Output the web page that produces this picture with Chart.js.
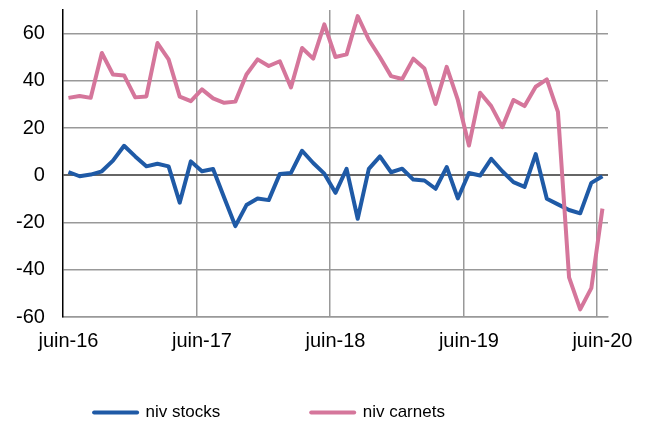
<!DOCTYPE html>
<html lang="fr">
<head>
<meta charset="utf-8">
<title>niv stocks / niv carnets</title>
<script src="https://cdn.jsdelivr.net/npm/chart.js@4.4.1/dist/chart.umd.min.js"></script>
<style>
  html, body { margin: 0; padding: 0; background: #fff; }
  #wrap { width: 647px; height: 425px; }
</style>
</head>
<body>
<div id="wrap"><canvas id="chart-niv"></canvas></div>
<script>
// ── Données (juin-16 → juin-20, mensuel) ──────────────────────
const mois  = ['juin', 'juil', 'août', 'sept', 'oct', 'nov', 'déc', 'janv', 'févr', 'mars', 'avr', 'mai'];
const annees = ['16', '17', '18', '19', '20'];

const nivStocks = [
  1.4, -0.4, 0.3, 1.7, 6.2, 12.5, 8, 3.8, 4.9, 3.8, -11.6, 5.9,
  1.7, 2.7, -9.5, -21.5, -12.6, -9.8, -10.5, 0.6, 1, 10.4, 5.2, 0.7,
  -7.4, 2.7, -18.4, 2.7, 8, 1.3, 2.8, -1.8, -2.2, -5.7, 3.5, -9.8,
  1, -0.1, 7, 1.7, -2.9, -4.9, 9, -9.9, -12.3, -14.7, -16.1, -3.2,
  -0.4,
];

const nivCarnets = [
  32.8, 33.6, 32.8, 51.8, 42.7, 42.3, 33, 33.4, 56, 49.1, 33.3, 31.4,
  36.4, 32.6, 30.7, 31.2, 42.7, 49.1, 46.3, 48.3, 37.2, 53.9, 49.4, 63.9,
  50.1, 51.2, 67.4, 57.4, 50, 42, 40.8, 49.4, 45.2, 30.2, 45.9, 31.9,
  12.6, 35, 29.3, 20.4, 31.9, 29.3, 37.5, 40.6, 26.9, -43.2, -56.8, -47.8,
  -14.1,
];

// une étiquette par mois, seule "juin" est affichée
const labels = [];
annees.forEach((a, k) => {
  mois.forEach((m) => {
    if (k === annees.length - 1 && m !== 'juin') return;
    labels.push(`${m}-${a}`);
  });
});

const BLEU = '#1F5AA6';
const ROSE = '#D5769B';
const FONT = "'Liberation Sans', Arial, sans-serif";

new Chart(document.getElementById('chart-niv'), {
  type: 'line',
  data: {
    labels,
    datasets: [
      {
        label:           'niv stocks',
        data:            nivStocks,
        borderColor:     BLEU,
        backgroundColor: BLEU,
        borderWidth:     4,
        pointRadius:     0,
        tension:         0,
        borderJoinStyle: 'round',
        order:           1,
      },
      {
        label:           'niv carnets',
        data:            nivCarnets,
        borderColor:     ROSE,
        backgroundColor: ROSE,
        borderWidth:     4,
        pointRadius:     0,
        tension:         0,
        borderJoinStyle: 'round',
        order:           0,   // dessiné au-dessus
      },
    ],
  },
  options: {
    responsive:          true,
    maintainAspectRatio: false,
    animation:           false,
    layout: { padding: { left: 16, right: 39, top: 0, bottom: -6 } },
    plugins: {
      tooltip: { enabled: false },
      legend: {
        position: 'bottom',
        align:    'center',
        labels: {
          color:          '#000',
          font:           { family: FONT, size: 17 },
          padding:        39,
          usePointStyle:  true,
          pointStyle:     'line',
          pointStyleWidth: 43,
          generateLabels: (chart) => {
            const items = Chart.defaults.plugins.legend.labels.generateLabels(chart);
            items.sort((a, b) => a.datasetIndex - b.datasetIndex);
            const espaces = [11, 18];
            return items.map((it, i) => ({
              ...it,
              text:      it.text + ' '.repeat(espaces[i]),
              lineWidth: 4,
              lineCap:   'round',
              pointStyle: 'line',
            }));
          },
        },
      },
    },
    scales: {
      x: {
        offset: true,
        grid: {
          offset:    true,
          drawTicks: false,
          color: (ctx) => (ctx.index > 0 && ctx.index < 49 && ctx.index % 12 === 0) ? '#999999' : 'rgba(0,0,0,0)',
          lineWidth: 1.5,
        },
        border: { color: '#999999', width: 1.5 },
        ticks: {
          autoSkip:    false,
          maxRotation: 0,
          padding:     12,
          color:       '#000',
          font:        { family: FONT, size: 20 },
          callback: (val, i) => (i % 12 === 0 ? labels[i] : ''),
        },
      },
      y: {
        min:    -60,
        max:    70,
        bounds: 'data',
        grid: {
          drawTicks:  true,
          tickLength: 18,
          tickColor:  'rgba(0,0,0,0)',
          color: (ctx) => {
            const v = ctx.tick?.value;
            if (v === 70) return 'rgba(0,0,0,0)';
            return v === 0 ? '#666666' : '#999999';
          },
          lineWidth: (ctx) => (ctx.tick?.value === 0 ? 2 : 1.5),
        },
        border: { color: '#000', width: 1.5 },
        ticks: {
          stepSize:      20,
          includeBounds: false,
          padding:       0,
          color:         '#000',
          font:          { family: FONT, size: 20, lineHeight: 1 },
          callback: (val) => (val === 70 ? '' : val),
        },
      },
    },
  },
});
</script>
</body>
</html>
